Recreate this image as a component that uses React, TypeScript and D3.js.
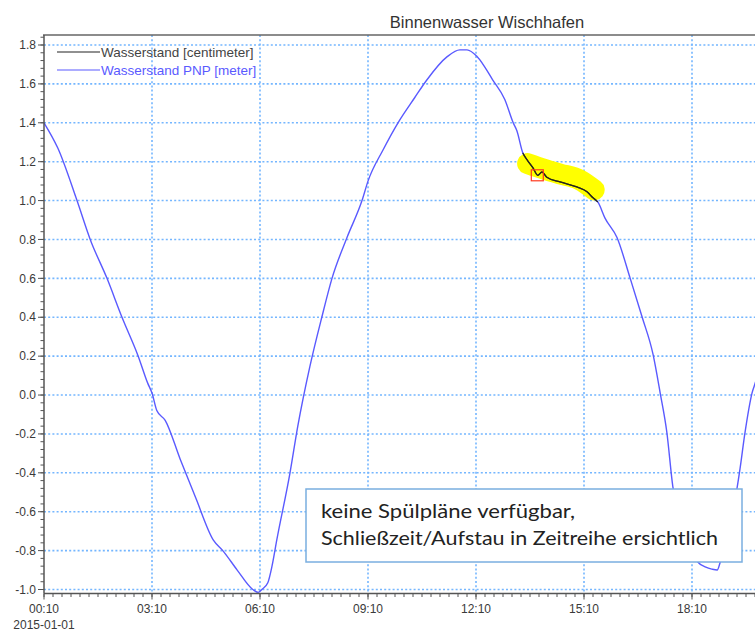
import * as d3 from 'd3';
import React from 'react';

const W = 755;
const H = 632;

const parse = d3.timeParse('%Y-%m-%d %H:%M');
const at = (hm: string) => parse(`2015-01-01 ${hm}`) as Date;

// Wasserstand PNP [meter]
const pnpTimes = [
  '00:10', '00:33', '01:05', '01:27', '01:55', '02:20', '02:47', '03:03', '03:10', '03:18',
  '03:32', '03:57', '04:23', '04:52', '05:08', '05:32', '05:58', '06:07', '06:13', '06:23',
  '06:30', '06:38', '07:00', '07:13', '07:33', '07:53', '08:10', '08:35', '09:00', '09:10',
  '09:35', '10:00', '10:28', '10:48', '11:22', '11:43', '11:55', '12:12', '12:38', '12:58',
  '13:12', '13:18', '13:28', '13:35', '13:45', '13:53', '14:00', '14:08', '14:30', '14:58',
  '15:15', '15:25', '15:33', '15:45', '16:05', '16:27', '16:47', '17:05', '17:17', '17:28',
  '17:38', '17:58', '18:20', '18:33', '18:43', '18:52', '18:57', '19:10', '19:25', '19:30',
  '19:38', '19:50', '19:57', '20:05',
];
const pnpValues = [
  1.4, 1.27, 1.0, 0.8, 0.6, 0.4, 0.2, 0.06, 0.01, -0.08,
  -0.13, -0.33, -0.53, -0.745, -0.8, -0.9, -1.0, -1.015, -1.0, -0.965,
  -0.88, -0.745, -0.4, -0.16, 0.145, 0.4, 0.6, 0.81, 1.0, 1.1,
  1.26, 1.4, 1.53, 1.62, 1.74, 1.775, 1.775, 1.74, 1.62, 1.52,
  1.4, 1.36, 1.245, 1.21, 1.168, 1.13, 1.147, 1.12, 1.096, 1.07,
  1.045, 1.014, 0.993, 0.91, 0.81, 0.6, 0.4, 0.21, 0.01, -0.19,
  -0.47, -0.7, -0.86, -0.885, -0.895, -0.9, -0.86, -0.68, -0.48, -0.38,
  -0.2, 0.01, 0.08, 0.22,
];

// Wasserstand [centimeter] - only the short piece that shows up
const cmTimes = ['13:28', '13:35', '13:45', '13:53', '14:00', '14:08', '14:30', '14:58', '15:15', '15:25', '15:33'];
const cmValues = [1.245, 1.21, 1.168, 1.13, 1.147, 1.12, 1.096, 1.07, 1.045, 1.014, 0.993];

// yellow marker drawn over the closing period
const markTimes = ['13:36', '14:05', '14:30', '15:03', '15:27'];
const markValues = [1.19, 1.16, 1.137, 1.106, 1.055];

const yTicks = [-1.0, -0.8, -0.6, -0.4, -0.2, 0.0, 0.2, 0.4, 0.6, 0.8, 1.0, 1.2, 1.4, 1.6, 1.8];
const xTickLabels = ['00:10', '03:10', '06:10', '09:10', '12:10', '15:10', '18:10'];

const title = 'Binnenwasser Wischhafen';
const legendLabels = ['Wasserstand [centimeter]', 'Wasserstand PNP [meter]'];
const noteLines = ['keine Spülpläne verfügbar,', 'Schließzeit/Aufstau in Zeitreihe ersichtlich'];

const BLUE = '#5a5aff';
const GRID = '#74b6ff';
const AXIS = '#555';
const FONT = '"Liberation Sans", Arial, sans-serif';

const App = () => {
  // frame of the plot
  const left = 44;
  const top = 35;
  const bottom = 593.5;

  const x = d3.scaleTime().domain([at('00:10'), at('20:10')]).range([left, left + 720]);
  const y = d3.scaleLinear().domain([-1.0, 1.8]).range([589.5, 45]);

  const line = d3
    .line<[Date, number]>()
    .x((d) => x(d[0]))
    .y((d) => y(d[1]))
    .curve(d3.curveMonotoneX);

  const pnp = pnpTimes.map((t, i) => [at(t), pnpValues[i]] as [Date, number]);
  const cm = cmTimes.map((t, i) => [at(t), cmValues[i]] as [Date, number]);
  const mark = markTimes.map((t, i) => [at(t), markValues[i]] as [Date, number]);

  const xMajor = xTickLabels.map(at);
  const xMinor = d3.range(0, 20 * 60 + 1, 15).map((m) => d3.timeMinute.offset(at('00:10'), m));
  const yMinor = d3.range(-1.0, 1.86, 0.04);

  const fmt = (v: number) => (Math.abs(v) < 1e-9 ? '0.0' : v.toFixed(1));

  const boxed = cm[3];

  return (
    <svg width={W} height={H} style={{ position: 'absolute', left: 0, top: 0, background: '#fff' }} fontFamily={FONT}>
      <defs>
        <clipPath id="plot">
          <rect x={left} y={top} width={W - left} height={bottom - top} />
        </clipPath>
      </defs>

      <text x={487} y={28} textAnchor="middle" fontSize={16.5} fill="#333">
        {title}
      </text>

      {/* grid */}
      <g stroke={GRID} strokeWidth={1.6} strokeDasharray="2 2.2">
        {yTicks.map((v) => (
          <line key={v} x1={left} x2={W} y1={y(v)} y2={y(v)} />
        ))}
        {xMajor.slice(1).map((d, i) => (
          <line key={i} x1={x(d)} x2={x(d)} y1={top} y2={bottom} />
        ))}
      </g>

      {/* series */}
      <g clipPath="url(#plot)">
        <path d={line(pnp) ?? ''} fill="none" stroke={BLUE} strokeWidth={1.4} />
        <path
          d={line(mark) ?? ''}
          fill="none"
          stroke="#ffff00"
          strokeWidth={21}
          strokeLinecap="round"
          strokeLinejoin="round"
          style={{ mixBlendMode: 'multiply' }}
        />
        <path d={line(cm) ?? ''} fill="none" stroke="#222" strokeWidth={1.3} />
        <rect x={x(boxed[0]) - 6.5} y={y(boxed[1]) - 5.5} width={12} height={11} fill="none" stroke="#ff3b1f" strokeWidth={1.2} />
      </g>

      {/* axes frame */}
      <line x1={left - 1} x2={W} y1={top} y2={top} stroke="#666" strokeWidth={1.5} />
      <line x1={left} x2={left} y1={top} y2={bottom} stroke={AXIS} strokeWidth={1.5} />
      <line x1={left} x2={W} y1={bottom} y2={bottom} stroke={AXIS} strokeWidth={1.5} />

      <g stroke={AXIS} strokeWidth={1}>
        {yMinor.map((v, i) => (
          <line key={i} x1={left - 3.5} x2={left} y1={y(v)} y2={y(v)} />
        ))}
        {yTicks.map((v) => (
          <line key={v} x1={left - 6} x2={left} y1={y(v)} y2={y(v)} />
        ))}
        {xMinor.map((d, i) => (
          <line key={i} x1={x(d)} x2={x(d)} y1={bottom} y2={bottom + 3.5} />
        ))}
        {xMajor.map((d, i) => (
          <line key={i} x1={x(d)} x2={x(d)} y1={bottom} y2={bottom + 6} />
        ))}
      </g>

      <g fontSize={12} fill="#3a3a3a">
        {yTicks.map((v) => (
          <text key={v} x={left - 8} y={y(v)} dy="0.35em" textAnchor="end">
            {fmt(v)}
          </text>
        ))}
        {xMajor.map((d, i) => (
          <text key={i} x={x(d)} y={613} textAnchor="middle">
            {xTickLabels[i]}
          </text>
        ))}
        <text x={x(xMajor[0])} y={629} textAnchor="middle">
          {d3.timeFormat('%Y-%m-%d')(xMajor[0])}
        </text>
      </g>

      {/* legend */}
      <g fontSize={13.5}>
        <line x1={57} x2={100} y1={52} y2={52} stroke="#222" strokeWidth={1.2} />
        <text x={101} y={56.5} fill="#444">
          {legendLabels[0]}
        </text>
        <line x1={57} x2={100} y1={70} y2={70} stroke={BLUE} strokeWidth={1.2} />
        <text x={101} y={74.5} fill={BLUE}>
          {legendLabels[1]}
        </text>
      </g>

      {/* annotation */}
      <rect x={306} y={489} width={436} height={73} fill="#fff" stroke="#7aaee0" strokeWidth={1.5} />
      <g fontFamily="Lato, 'Open Sans', sans-serif" fontSize={19} fill="#222">
        <text x={321} y={518} textLength={254} lengthAdjust="spacingAndGlyphs">
          {noteLines[0]}
        </text>
        <text x={321} y={545} textLength={397} lengthAdjust="spacingAndGlyphs">
          {noteLines[1]}
        </text>
      </g>
    </svg>
  );
};

export default App;
